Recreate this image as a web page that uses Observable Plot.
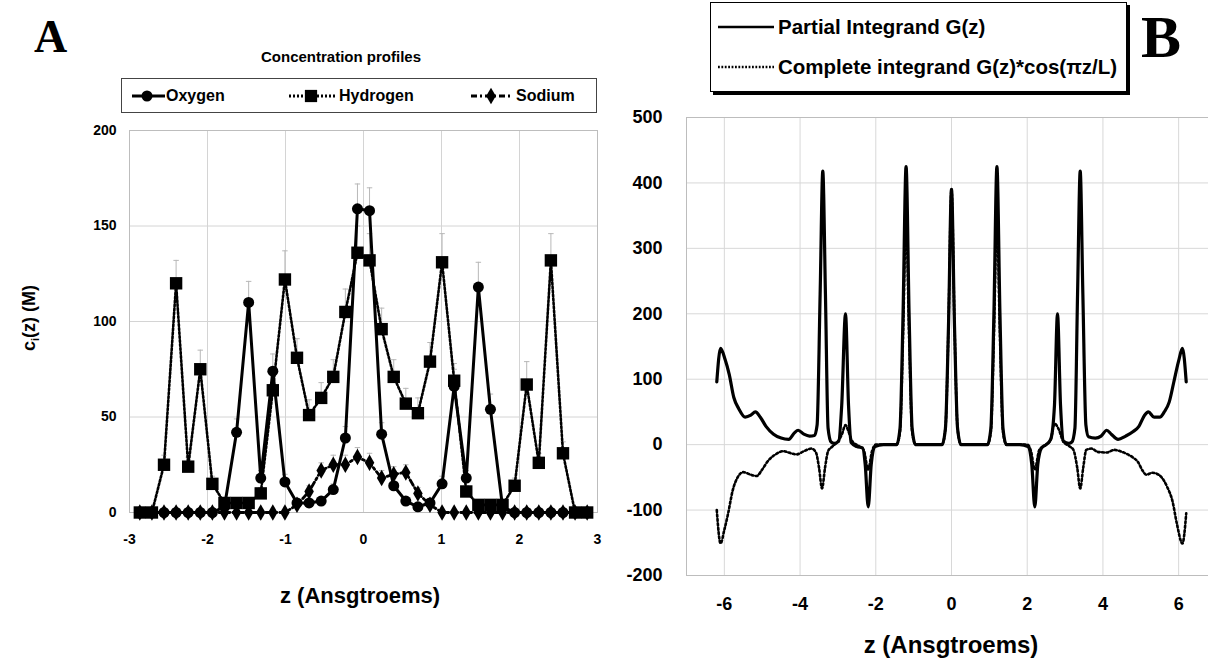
<!DOCTYPE html>
<html>
<head>
<meta charset="utf-8">
<script src="https://cdn.jsdelivr.net/npm/d3@7"></script>
<script src="https://cdn.jsdelivr.net/npm/@observablehq/plot@0.6"></script>
<style>
  html, body { margin: 0; padding: 0; background: #fff; overflow: hidden; }
  #wrap { position: relative; width: 1208px; height: 663px; overflow: hidden; font-family: "Liberation Sans", Arial, sans-serif; }
  #wrap svg text { font-weight: bold; }
  .abs { position: absolute; white-space: nowrap; }
  .bold { font-weight: bold; color: #000; }
  .big { font-family: "Liberation Serif", "Times New Roman", serif; font-weight: bold; line-height: 1; }
  .legA { border: 1.5px solid #444; background: #fff; }
  .legB { border: 1.5px solid #000; background: #fff; box-shadow: 3px 3px 0 #000; }
</style>
</head>
<body>
<div id="wrap">
  <div id="plotA" class="abs" style="left:0;top:0"></div>
  <div id="plotB" class="abs" style="left:600px;top:0"></div>

  <div class="abs big" style="left:34px;top:14px;font-size:46px">A</div>
  <div class="abs big" style="left:1141px;top:7px;font-size:60px">B</div>

  <div class="abs bold" style="left:341px;top:56px;transform:translate(-50%,-50%);font-size:15px">Concentration profiles</div>

  <div class="abs legA" style="left:121px;top:78px;width:474px;height:33px"></div>
  <svg class="abs" style="left:121px;top:78px" width="476" height="35" id="legAsvg"></svg>
  <div class="abs bold" style="left:166px;top:96px;transform:translateY(-50%);font-size:16px">Oxygen</div>
  <div class="abs bold" style="left:339px;top:96px;transform:translateY(-50%);font-size:16px">Hydrogen</div>
  <div class="abs bold" style="left:516px;top:96px;transform:translateY(-50%);font-size:16px">Sodium</div>

  <div class="abs bold" style="left:30px;top:318px;transform:translate(-50%,-50%) rotate(-90deg);font-size:18px">c<sub style="font-size:11px">i</sub>(z) (M)</div>
  <div class="abs bold" style="left:360px;top:596px;transform:translate(-50%,-50%);font-size:22px">z (Ansgtroems)</div>

  <div class="abs legB" style="left:710px;top:2px;width:415px;height:88px"></div>
  <svg class="abs" style="left:710px;top:2px" width="70" height="90" id="legBsvg"></svg>
  <div class="abs bold" style="left:778px;top:27px;transform:translateY(-50%);font-size:20.5px">Partial Integrand G(z)</div>
  <div class="abs bold" style="left:778px;top:67px;transform:translateY(-50%);font-size:20.5px">Complete integrand G(z)*cos(πz/L)</div>

  <div class="abs bold" style="left:951px;top:645px;transform:translate(-50%,-50%);font-size:24px">z (Ansgtroems)</div>
</div>

<script>
// ---------- Panel A data ----------
const zA = [-2.8675, -2.7125, -2.5575, -2.4025, -2.2475, -2.0925, -1.9375, -1.7825, -1.6275, -1.4725,
            -1.3175, -1.1625, -1.0075, -0.8525, -0.6975, -0.5425, -0.3875, -0.2325, -0.0775,
             0.0775, 0.2325, 0.3875, 0.5425, 0.6975, 0.8525, 1.0075, 1.1625, 1.3175, 1.4725,
             1.6275, 1.7825, 1.9375, 2.0925, 2.2475, 2.4025, 2.5575, 2.7125, 2.8675];
const oxygen   = [0, 0, 0, 0, 0, 0, 0, 3, 42, 110, 18, 74, 16, 5, 5, 6, 12, 39, 159,
                  158, 41, 14, 6, 3, 5, 15, 66, 18, 118, 54, 3, 0, 0, 0, 0, 0, 0, 0];
const oxygenErr = [0, 0, 0, 0, 0, 0, 0, 1, 7, 11, 4, 9, 4, 2, 2, 2, 3, 6, 13,
                   12, 6, 4, 2, 1, 2, 4, 9, 4, 13, 8, 1, 0, 0, 0, 0, 0, 0, 0];
const hydrogen = [0, 0, 25, 120, 24, 75, 15, 5, 5, 5, 10, 64, 122, 81, 51, 60, 71, 105, 136,
                  132, 96, 71, 57, 52, 79, 131, 69, 11, 4, 4, 4, 14, 67, 26, 132, 31, 0, 0];
const hydrogenErr = [0, 0, 5, 12, 5, 10, 4, 2, 2, 2, 3, 9, 15, 10, 8, 8, 9, 12, 14,
                     14, 11, 9, 8, 8, 10, 15, 9, 3, 2, 2, 2, 4, 12, 5, 14, 6, 0, 0];
const sodium   = [0, 0, 0, 0, 0, 0, 0, 0, 0, 0, 0, 0, 0, 4, 11, 22, 25, 25, 29,
                  26, 18, 20, 21, 10, 4, 0, 0, 0, 0, 0, 0, 0, 0, 0, 0, 0, 0, 0];
const sodiumErr = [0, 0, 0, 0, 0, 0, 0, 0, 0, 0, 0, 0, 0, 1, 3, 4, 5, 5, 5,
                   5, 4, 4, 4, 3, 1, 0, 0, 0, 0, 0, 0, 0, 0, 0, 0, 0, 0, 0];
const xTicksA = [-3, -2, -1, 0, 1, 2, 3];
const yTicksA = [0, 50, 100, 150, 200];

// ---------- Panel B data ----------
const zPartial = [-6.2, -6.1, -5.98, -5.87, -5.75, -5.62, -5.45, -5.3, -5.18, -5.05, -4.9, -4.7, -4.5, -4.3, -4.15, -4.05, -3.9, -3.75, -3.62,
  -3.55, -3.47, -3.4, -3.33, -3.26, -3.18, -3.1, -2.98, -2.9, -2.8, -2.72, -2.65, -2.5, -2.35, -2.28, -2.2, -2.12, -2.02, -1.8,
  -1.45, -1.36, -1.28, -1.2, -1.12, -1.04, -0.95, -0.25, -0.16, -0.08, 0, 0.08, 0.16, 0.25, 0.95, 1.04, 1.12, 1.2, 1.28, 1.36, 1.45,
  1.8, 2.02, 2.12, 2.2, 2.28, 2.38, 2.5, 2.62, 2.72, 2.8, 2.88, 2.96, 3.1, 3.18, 3.26, 3.33, 3.4, 3.47, 3.55, 3.62,
  3.8, 3.95, 4.1, 4.22, 4.4, 4.6, 4.8, 4.95, 5.1, 5.2, 5.35, 5.5, 5.62, 5.75, 5.87, 6.0, 6.1, 6.2];
const partial = [96, 147, 130, 107, 72, 55, 42, 45, 50, 42, 28, 16, 10, 8, 18, 22, 16, 13, 14,
  30, 230, 418, 230, 25, 4, 2, 5, 60, 200, 60, 3, -3, -5, -30, -95, -30, -3, 0,
  0, 25, 200, 425, 200, 25, 0, 0, 25, 180, 390, 180, 25, 0, 0, 25, 200, 425, 200, 25, 0,
  0, -3, -30, -95, -30, -5, 0, 8, 60, 200, 60, 5, 2, 4, 25, 230, 418, 230, 30, 12,
  10, 13, 22, 16, 8, 13, 20, 28, 45, 50, 42, 42, 50, 65, 95, 128, 147, 96];

const zComplete = [-6.2, -6.1, -6.0, -5.9, -5.78, -5.65, -5.5, -5.3, -5.15, -5.0, -4.85, -4.65, -4.45, -4.25, -4.1, -3.9, -3.7,
  -3.58, -3.5, -3.42, -3.34, -3.26, -3.15, -3.0, -2.9, -2.8, -2.72, -2.62, -2.45, -2.32, -2.2, -2.1, -2.0,
  -1.45, -1.36, -1.28, -1.2, -1.12, -1.04, -0.95, -0.25, -0.16, -0.08, 0, 0.08, 0.16, 0.25, 0.95, 1.04, 1.12, 1.2, 1.28, 1.36, 1.45,
  2.0, 2.1, 2.2, 2.32, 2.45, 2.62, 2.72, 2.82, 2.95, 3.1, 3.22, 3.32, 3.4, 3.48, 3.56, 3.7, 3.86, 4.1, 4.3, 4.5, 4.66, 4.8, 4.92,
  5.05, 5.15, 5.3, 5.4, 5.55, 5.7, 5.84, 5.95, 6.1, 6.2];
const complete = [-100, -151, -130, -105, -70, -50, -42, -46, -48, -38, -25, -15, -10, -13, -15, -10, -6,
  -12, -35, -67, -35, -10, -3, 5, 15, 30, 20, 5, -2, -8, -38, -10, 0,
  0, 20, 165, 345, 165, 20, 0, 0, 25, 180, 390, 180, 25, 0, 0, 20, 165, 345, 165, 20, 0,
  0, -10, -38, -8, -2, 8, 32, 25, 5, -2, -8, -35, -67, -35, -8, -6, -11, -12, -8, -11, -15, -20, -26,
  -40, -46, -43, -44, -50, -65, -87, -120, -151, -105];
const xTicksB = [-6, -4, -2, 0, 2, 4, 6];
const yTicksB = [-200, -100, 0, 100, 200, 300, 400, 500];

// ---------- Build Panel A ----------
const mk = (vals, errs) => zA.map((z, i) => ({z, v: vals[i], e: errs[i]}));
const oxy = mk(oxygen, oxygenErr), hyd = mk(hydrogen, hydrogenErr), sod = mk(sodium, sodiumErr);
const errMarks = (rows) => [
  Plot.ruleX(rows.filter(d => d.e > 0), {x: "z", y1: "v", y2: d => d.v + d.e, stroke: "#b8b8b8", strokeWidth: 1}),
  Plot.link(rows.filter(d => d.e > 0), {x1: d => d.z - 0.035, x2: d => d.z + 0.035, y1: d => d.v + d.e, y2: d => d.v + d.e, stroke: "#b8b8b8", strokeWidth: 1})
];
const fmt = d => String(d);

const plotA = Plot.plot({
  width: 605, height: 663,
  marginLeft: 129, marginRight: 8, marginTop: 130, marginBottom: 151,
  style: {maxWidth: "none", fontFamily: "'Liberation Sans', Arial, sans-serif", overflow: "visible", background: "transparent"},
  x: {domain: [-3, 3]},
  y: {domain: [0, 200]},
  marks: [
    Plot.gridX(xTicksA, {stroke: "#d4d4d4", strokeOpacity: 1}),
    Plot.gridY(yTicksA, {stroke: "#d4d4d4", strokeOpacity: 1}),
    Plot.frame({stroke: "#bdbdbd"}),
    ...errMarks(hyd), ...errMarks(oxy), ...errMarks(sod),
    Plot.line(hyd, {x: "z", y: "v", stroke: "#000", strokeWidth: 2.6, strokeDasharray: "2,2"}),
    Plot.dot(hyd, {x: "z", y: "v", symbol: "square", r: 7, fill: "#000", stroke: "none"}),
    Plot.line(oxy, {x: "z", y: "v", stroke: "#000", strokeWidth: 3}),
    Plot.dot(oxy, {x: "z", y: "v", symbol: "circle", r: 5.5, fill: "#000", stroke: "none"}),
    Plot.line(sod, {x: "z", y: "v", stroke: "#000", strokeWidth: 2.8, strokeDasharray: "6,3,2,3"}),
    Plot.dot(sod, {x: "z", y: "v", symbol: "diamond", r: 5, fill: "#000", stroke: "none"}),
    Plot.axisX(xTicksA, {tickSize: 0, tickPadding: 22, fontSize: 14, tickFormat: fmt, label: null}),
    Plot.axisY(yTicksA, {tickSize: 0, tickPadding: 13, fontSize: 14, tickFormat: fmt, label: null})
  ]
});
document.getElementById("plotA").appendChild(plotA);

// ---------- Build Panel B ----------
const partRows = zPartial.map((z, i) => ({z, v: partial[i]}));
const compRows = zComplete.map((z, i) => ({z, v: complete[i]}));
const plotB = Plot.plot({
  width: 616, height: 663,
  marginLeft: 86, marginRight: 0, marginTop: 117, marginBottom: 88,
  style: {maxWidth: "none", fontFamily: "'Liberation Sans', Arial, sans-serif", overflow: "visible", background: "transparent"},
  x: {domain: [-7, 7]},
  y: {domain: [-200, 500]},
  marks: [
    Plot.gridX(xTicksB, {stroke: "#d8d8d8", strokeOpacity: 1}),
    Plot.gridY(yTicksB, {stroke: "#d8d8d8", strokeOpacity: 1}),
    Plot.frame({stroke: "#bdbdbd"}),
    Plot.line(compRows, {x: "z", y: "v", curve: "monotone-x", stroke: "#000", strokeWidth: 2.6, strokeDasharray: "2,2.4"}),
    Plot.line(partRows, {x: "z", y: "v", curve: "monotone-x", stroke: "#000", strokeWidth: 3.2}),
    Plot.axisX(xTicksB, {tickSize: 0, tickPadding: 22, fontSize: 18, tickFormat: fmt, label: null}),
    Plot.axisY(yTicksB, {tickSize: 0, tickPadding: 24, fontSize: 18, tickFormat: fmt, label: null})
  ]
});
document.getElementById("plotB").appendChild(plotB);

// ---------- Legend glyphs (drawn with d3) ----------
const la = d3.select("#legAsvg");
const legA = [
  {x1: 11, x2: 44, cx: 26, dash: null, sym: d3.symbolCircle, size: 95},
  {x1: 168, x2: 214, cx: 190, dash: "2,2", sym: d3.symbolSquare, size: 150},
  {x1: 350, x2: 392, cx: 370, dash: "6,3,2,3", sym: d3.symbolDiamond, size: 80}
];
legA.forEach(d => {
  la.append("line").attr("x1", d.x1).attr("x2", d.x2).attr("y1", 18).attr("y2", 18)
    .attr("stroke", "#000").attr("stroke-width", 2.8).attr("stroke-dasharray", d.dash);
  la.append("path").attr("d", d3.symbol(d.sym, d.size)()).attr("transform", `translate(${d.cx},18)`).attr("fill", "#000");
});
const lb = d3.select("#legBsvg");
lb.append("line").attr("x1", 8).attr("x2", 64).attr("y1", 25).attr("y2", 25).attr("stroke", "#000").attr("stroke-width", 2.5);
lb.append("line").attr("x1", 8).attr("x2", 64).attr("y1", 65).attr("y2", 65).attr("stroke", "#000").attr("stroke-width", 2.5).attr("stroke-dasharray", "1.8,1.6");
</script>
</body>
</html>
